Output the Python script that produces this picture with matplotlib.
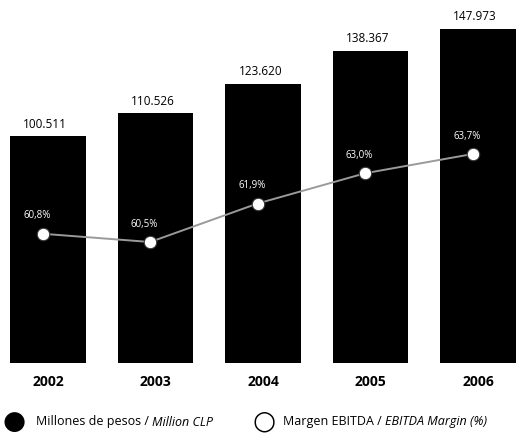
import matplotlib
matplotlib.use("Agg")
import matplotlib.pyplot as plt
import numpy as np

years = ["2002", "2003", "2004", "2005", "2006"]
ingresos = [100511, 110526, 123620, 138367, 147973]
margen = [60.8, 60.5, 61.9, 63.0, 63.7]
ingresos_labels = ["100.511", "110.526", "123.620", "138.367", "147.973"]
margen_labels = ["60,8%", "60,5%", "61,9%", "63,0%", "63,7%"]

plt.rcParams["font.family"] = ["Open Sans", "DejaVu Sans"]

fig = plt.figure(figsize=(5.17, 4.37), dpi=100)
ax = fig.add_axes([0, 0.1693, 1, 0.8307])
x = np.arange(len(years))

ax.bar(x, ingresos, width=0.70, color="black", zorder=1)
for xi, v, lab in zip(x, ingresos, ingresos_labels):
    ax.annotate(lab, (xi, v), xytext=(-2, 4), textcoords="offset points",
                ha="center", va="bottom", fontsize=8.5, color="black")

ax.set_xlim(-0.4465, 4.363)
ax.set_ylim(0, 160800)
ax.axis("off")

# points sit a bit left of the bar centres in the original
xl = x - 0.05
ax2 = ax.twinx()
ax2.set_ylim(56.1, 69.3)
ax2.plot(xl, margen, color="#9a9a9a", lw=1.4, zorder=2)
ax2.plot(xl, margen, "o", ms=9, mfc="white", mec="#333333", mew=0.8, zorder=3)
for xi, v, lab in zip(xl, margen, margen_labels):
    ax2.annotate(lab, (xi, v), xytext=(-4, 9), textcoords="offset points",
                 ha="center", va="bottom", fontsize=7, color="white")
ax2.axis("off")

for xi, y in zip(x, years):
    ax.annotate(y, (xi, 0), xytext=(0, -14), textcoords="offset points",
                ha="center", va="center", fontsize=10, fontweight="bold")

# legend, pieces laid out one after the other
ly = 1 - 422 / 437
r = fig.canvas.get_renderer()


def put(xpx, s, **kw):
    t = fig.text(xpx / 517, ly, s, ha="left", va="center", **kw)
    return t.get_window_extent(r).x1


fig.text(14 / 517, ly, "\u25CF", fontsize=19, ha="center", va="center", family="DejaVu Sans")
xe = put(36, "Millones de pesos / ", fontsize=9)
put(xe, "Million CLP", fontsize=9, style="italic")
fig.text(264 / 517, ly, "\u25CB", fontsize=19, ha="center", va="center", family="DejaVu Sans")
xe = put(283, "Margen EBITDA / ", fontsize=9)
put(xe, "EBITDA Margin (%)", fontsize=9, style="italic")

fig.savefig("out.png", dpi=100, facecolor="white")
